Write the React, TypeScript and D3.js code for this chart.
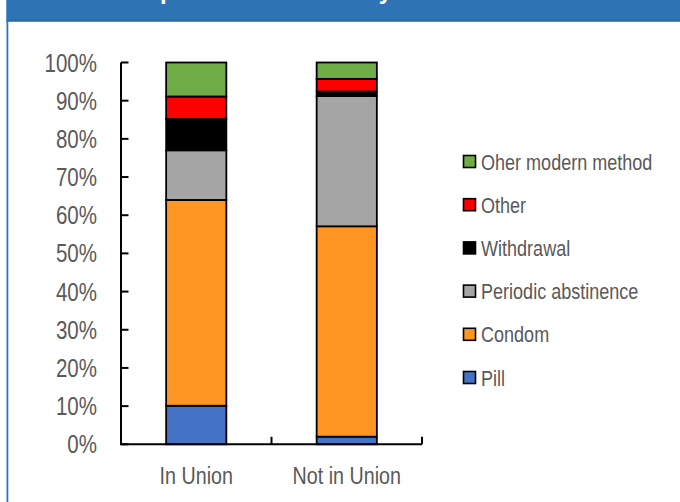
import React from "react";
import * as d3 from "d3";

const categories = ["In Union", "Not in Union"];
const methods = ["Pill", "Condom", "Periodic abstinence", "Withdrawal", "Other", "Oher modern method"];
const pill = [10.1, 2.0];
const condom = [53.9, 55.1];
const periodic = [13.0, 34.1];
const withdrawal = [8.2, 1.2];
const other = [5.9, 3.3];
const oherModern = [8.9, 4.3];
const yTicks = [0, 10, 20, 30, 40, 50, 60, 70, 80, 90, 100];
const colors = ["#4472C4", "#FF9623", "#A5A5A5", "#000000", "#FF0000", "#70AD47"];
const title = "Contraceptive method mix by union status";

const W = 680;
const H = 502;
const FONT = "'Liberation Sans', Arial, sans-serif";
const TEXT = "#595959";
const SX = 0.82;

function NText(props: { x: number; y: number; anchor?: string; size: number; children: any }) {
  return (
    <g transform={`translate(${props.x},${props.y}) scale(${SX},1)`}>
      <text x={0} y={0} textAnchor={props.anchor || "start"} fill={TEXT} fontFamily={FONT} fontSize={props.size}>
        {props.children}
      </text>
    </g>
  );
}

export default function App() {
  const series = [pill, condom, periodic, withdrawal, other, oherModern];
  const rows = categories.map((c, i) => {
    const r: any = { cat: c };
    methods.forEach((m, j) => (r[m] = series[j][i]));
    return r;
  });
  const stacked = d3.stack().keys(methods)(rows);

  const y = d3.scaleLinear().domain([0, 100]).range([444.3, 62.5]);
  const x = d3.scaleBand().domain(categories).range([121, 422]).paddingInner(0.6).paddingOuter(0.3);
  const step = x.step();
  const bounds = [121, 121 + step * 0.3 + x.bandwidth() + step * 0.3, 422];

  const legendItems = methods.slice().reverse();
  const legendColors = colors.slice().reverse();
  const legendY = d3.scalePoint().domain(legendItems).range([161.5, 377.5]);

  return (
    <svg width={W} height={H} style={{ position: "absolute", left: 0, top: 0, background: "#fff" }}>
      <rect x={0} y={0} width={W} height={H} fill="#ffffff" />
      <rect x={6.5} y={0} width={W - 6.5} height={21.5} fill="#2E74B5" />
      <rect x={6.5} y={19.8} width={W - 6.5} height={1.7} fill="#2966A0" />
      <rect x={6.5} y={0} width={1.8} height={H} fill="#2E74B5" />
      <text x={56} y={-1.5} fill="#ffffff" fontFamily="'Liberation Sans', Arial, sans-serif" fontWeight="bold" fontSize={24}>
        {title}
      </text>

      {stacked.map((s, j) =>
        s.map((d, i) => (
          <rect
            key={`${j}-${i}`}
            x={x(categories[i])}
            y={y(d[1])}
            width={x.bandwidth()}
            height={y(d[0]) - y(d[1])}
            fill={colors[j]}
            stroke="#000"
            strokeWidth={1.8}
          />
        ))
      )}

      <line x1={121} y1={y(0)} x2={121} y2={y(100)} stroke="#000" strokeWidth={2} />
      {yTicks.map((t) => (
        <g key={t}>
          <line x1={121} x2={128.5} y1={y(t)} y2={y(t)} stroke="#000" strokeWidth={2} />
          <NText x={97} y={y(t) + 9} anchor="end" size={25}>
            {t}%
          </NText>
        </g>
      ))}
      <line x1={120} y1={y(0)} x2={422} y2={y(0)} stroke="#000" strokeWidth={2} />
      {bounds.map((b, i) => (
        <line key={i} x1={b} x2={b} y1={y(0)} y2={y(0) - 7.5} stroke="#000" strokeWidth={2} />
      ))}
      {categories.map((c) => (
        <NText key={c} x={(x(c) as number) + x.bandwidth() / 2} y={483.5} anchor="middle" size={24}>
          {c}
        </NText>
      ))}

      {legendItems.map((m, i) => (
        <g key={m} transform={`translate(0,${legendY(m)})`}>
          <rect x={463.5} y={-6} width={12} height={12} fill={legendColors[i]} stroke="#000" strokeWidth={1.6} />
          <NText x={481} y={8} size={22}>
            {m}
          </NText>
        </g>
      ))}
    </svg>
  );
}
